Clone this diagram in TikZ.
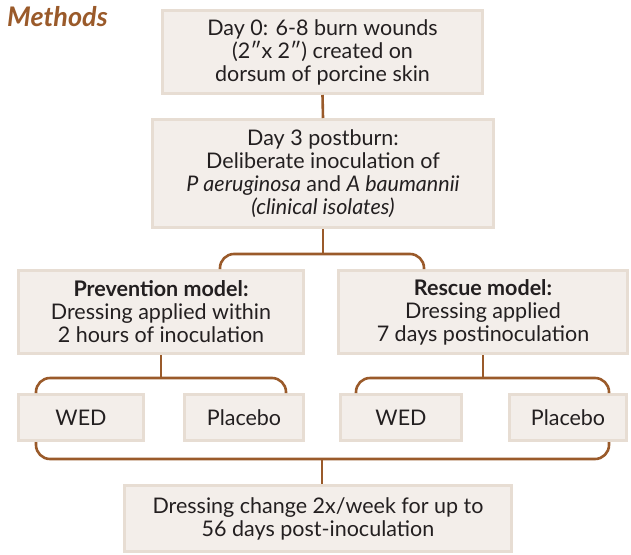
\documentclass[tikz,border=0pt]{standalone}
\usepackage{fontspec}
\setmainfont{Lato}
\usetikzlibrary{calc}
\definecolor{boxfill}{HTML}{F3EEEA}
\definecolor{boxline}{HTML}{E7DDD3}
\definecolor{brown}{HTML}{9A5A2A}
\definecolor{txt}{HTML}{231F20}
\begin{document}
\begin{tikzpicture}[x=1pt,y=-1pt,
  box/.style={draw=boxline, fill=boxfill, line width=3pt, align=center, inner sep=0pt,
    text=txt, font=\fontsize{21.5}{23}\selectfont},
  conn/.style={draw=brown, line width=2.6pt, rounded corners=14pt}]
\useasboundingbox (0,0) rectangle (631,554);
\node[anchor=west, text=brown, font=\fontsize{27}{30}\selectfont\bfseries\itshape, inner sep=0pt] (title) at (7,17) {Methods};
\node[box, minimum width=320, minimum height=83] (b1) at (322.5,52) {Day 0: 6-8 burn wounds\\(2″x 2″) created on\\dorsum of porcine skin};
\node[box, minimum width=341, minimum height=108] (b2) at (323,173.5) {Day 3 postburn:\\Deliberate inoculation of\\\textit{P aeruginosa} and \textit{A baumannii}\\\textit{(clinical isolates)}};
\node[box, minimum width=285, minimum height=83] (prev) at (161,312) {\textbf{Prevention model:}\\Dressing applied within\\2 hours of inoculation};
\node[box, minimum width=289, minimum height=83] (resc) at (483,312) {\textbf{Rescue model:}\\Dressing applied\\7 days postinoculation};
\node[box, minimum width=125, minimum height=46] (wed1) at (81,417.5) {WED};
\node[box, minimum width=119, minimum height=46] (pla1) at (244,417.5) {Placebo};
\node[box, minimum width=121, minimum height=46] (wed2) at (401,417.5) {WED};
\node[box, minimum width=117, minimum height=46] (pla2) at (568,417.5) {Placebo};
\node[box, minimum width=387, minimum height=66] (b3) at (318,518.5) {Dressing change 2x/week for up to\\56 days post-inoculation};
% bracket coordinates
\coordinate (y1) at (0,254);
\coordinate (y2) at (0,378);
\coordinate (y3) at (0,459);
\coordinate (c1) at (220,0);
\coordinate (c2) at (424,0);
\coordinate (p1) at (36,0);
\coordinate (p2) at (286,0);
\coordinate (r1) at (356,0);
\coordinate (r2) at (609,0);
\coordinate (m) at (322,0);
% connectors
\draw[conn] (b1.south) -- (b2.north);
\draw[conn] (b2.south) -- (b2.south |- y1);
\draw[conn] (prev.north -| c1) -- (c1 |- y1) -- (c2 |- y1) -- (resc.north -| c2);
\draw[conn] (prev.south) -- (prev.south |- y2);
\draw[conn] (wed1.north -| p1) -- (p1 |- y2) -- (p2 |- y2) -- (pla1.north -| p2);
\draw[conn] (resc.south) -- (resc.south |- y2);
\draw[conn] (wed2.north -| r1) -- (r1 |- y2) -- (r2 |- y2) -- (pla2.north -| r2);
\draw[conn] (wed1.south -| p1) -- (p1 |- y3) -- (r2 |- y3) -- (pla2.south -| r2);
\draw[conn] (m |- y3) -- (b3.north -| m);
\end{tikzpicture}
\end{document}
